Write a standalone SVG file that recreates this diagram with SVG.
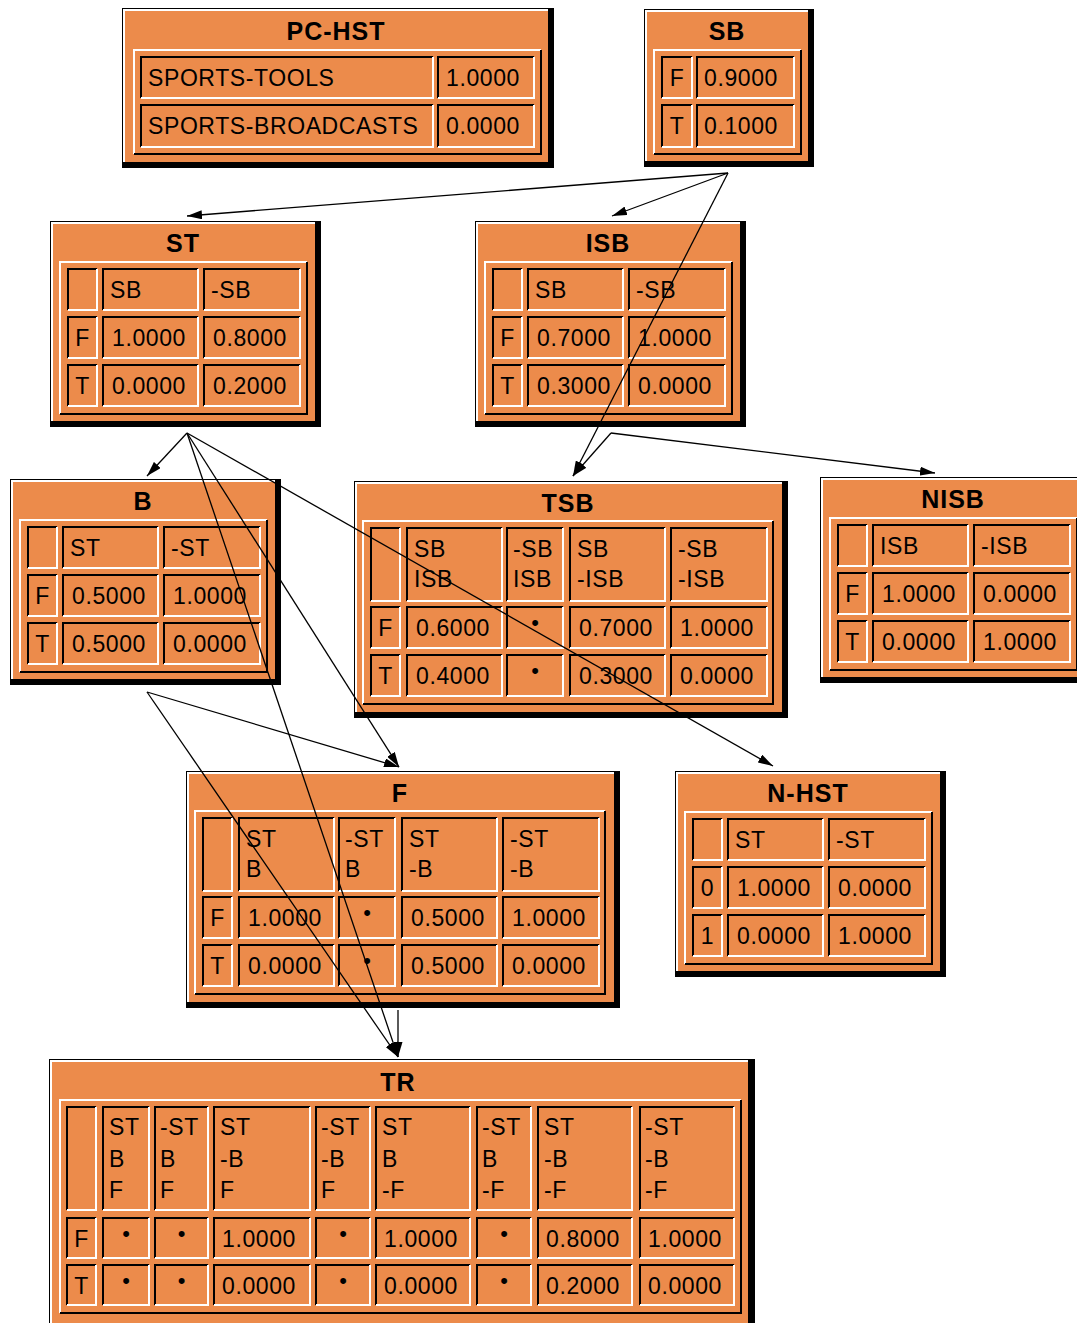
<svg xmlns="http://www.w3.org/2000/svg" width="1077" height="1323" viewBox="0 0 1077 1323">
<style>
.k{fill:#000}
.wf{fill:#fff}
.or{fill:#EC8B4B}
.sk{fill:none;stroke:#000;stroke-width:2}
.sw{fill:none;stroke:#fff;stroke-width:2}
text{font-family:"Liberation Sans",Arial,sans-serif;font-size:23px;letter-spacing:0.6px;fill:#000}
.ti{font-size:25px;font-weight:bold;text-anchor:middle;letter-spacing:1px}
.m{text-anchor:middle}
.d{font-size:22px;text-anchor:middle;letter-spacing:0}
.cn line{stroke:#000;stroke-width:1.3;fill:none;marker-end:url(#ah)}
</style>
<defs>
<marker id="ah" viewBox="0 0 15 9" refX="15" refY="4.5" markerWidth="15" markerHeight="9" markerUnits="userSpaceOnUse" orient="auto"><path d="M0,0L15,4.5L0,9z" fill="#000"/></marker>
<g id="n3">
<rect class="k" x="-1" y="-1" width="271" height="206"/>
<rect class="wf" x="0" y="0" width="264" height="199"/>
<rect class="or" x="2" y="2" width="262" height="197"/>
<path class="sw" d="M9 192V40H256"/>
<path class="sk" d="M256 40V192H9"/>
<path class="sk" d="M17 88V47H46M52 88V47H147M153 88V47H249M17 136V95H46M52 136V95H147M153 136V95H249M17 184V143H46M52 184V143H147M153 184V143H249"/>
<path class="sw" d="M46 47V88H17M147 47V88H52M249 47V88H153M46 95V136H17M147 95V136H52M249 95V136H153M46 143V184H17M147 143V184H52M249 143V184H153"/>
</g>
<g id="n5">
<rect class="k" x="-1" y="-1" width="434" height="237"/>
<rect class="wf" x="0" y="0" width="427" height="230"/>
<rect class="or" x="2" y="2" width="425" height="228"/>
<path class="sw" d="M8 222V39H418"/>
<path class="sk" d="M418 39V222H8"/>
<path class="sk" d="M16 119V46H45M52 119V46H147M152 119V46H208M215 119V46H310M316 119V46H412M16 166V125H45M52 166V125H147M152 166V125H208M215 166V125H310M316 166V125H412M16 214V173H45M52 214V173H147M152 214V173H208M215 214V173H310M316 214V173H412"/>
<path class="sw" d="M45 46V119H16M147 46V119H52M208 46V119H152M310 46V119H215M412 46V119H316M45 125V166H16M147 125V166H52M208 125V166H152M310 125V166H215M412 125V166H316M45 173V214H16M147 173V214H52M208 173V214H152M310 173V214H215M412 173V214H316"/>
</g>
</defs>
<rect x="0" y="0" width="1077" height="1323" fill="#fff"/>

<g id="node-PC-HST">
<rect class="k" x="122" y="8" width="432" height="160"/>
<rect class="wf" x="123" y="9" width="425" height="153"/>
<rect class="or" x="125" y="11" width="423" height="151"/>
<path class="sw" d="M134 154V50H541"/>
<path class="sk" d="M541 50V154H134"/>
<path class="sk" d="M141 98V57H433M438 98V57H534M141 147V105H433M438 147V105H534"/>
<path class="sw" d="M433 57V98H141M534 57V98H438M433 105V147H141M534 105V147H438"/>
<text class="ti" x="336" y="40">PC-HST</text>
<text x="148" y="86">SPORTS-TOOLS</text><text x="446" y="86">1.0000</text>
<text x="148" y="134">SPORTS-BROADCASTS</text><text x="446" y="134">0.0000</text>
</g>

<g id="node-SB">
<rect class="k" x="644" y="9" width="170" height="158"/>
<rect class="wf" x="645" y="10" width="163" height="151"/>
<rect class="or" x="647" y="12" width="161" height="149"/>
<path class="sw" d="M654 154V50H801"/>
<path class="sk" d="M801 50V154H654"/>
<path class="sk" d="M662 98V57H692M697 98V57H794M662 147V105H692M697 147V105H794"/>
<path class="sw" d="M692 57V98H662M794 57V98H697M692 105V147H662M794 105V147H697"/>
<text class="ti" x="727" y="40">SB</text>
<text class="m" x="677" y="86">F</text><text x="704" y="86">0.9000</text>
<text class="m" x="677" y="134">T</text><text x="704" y="134">0.1000</text>
</g>

<g id="node-ST" transform="translate(51,222)">
<use href="#n3"/>
<text class="ti" x="132" y="30">ST</text>
<text x="59" y="76">SB</text><text x="160" y="76">-SB</text>
<text class="m" x="31.5" y="124">F</text><text x="61" y="124">1.0000</text><text x="162" y="124">0.8000</text>
<text class="m" x="31.5" y="172">T</text><text x="61" y="172">0.0000</text><text x="162" y="172">0.2000</text>
</g>

<g id="node-ISB" transform="translate(476,222)">
<use href="#n3"/>
<text class="ti" x="132" y="30">ISB</text>
<text x="59" y="76">SB</text><text x="160" y="76">-SB</text>
<text class="m" x="31.5" y="124">F</text><text x="61" y="124">0.7000</text><text x="162" y="124">1.0000</text>
<text class="m" x="31.5" y="172">T</text><text x="61" y="172">0.3000</text><text x="162" y="172">0.0000</text>
</g>

<g id="node-B" transform="translate(11,480)">
<use href="#n3"/>
<text class="ti" x="132" y="30">B</text>
<text x="59" y="76">ST</text><text x="160" y="76">-ST</text>
<text class="m" x="31.5" y="124">F</text><text x="61" y="124">0.5000</text><text x="162" y="124">1.0000</text>
<text class="m" x="31.5" y="172">T</text><text x="61" y="172">0.5000</text><text x="162" y="172">0.0000</text>
</g>

<g id="node-NISB" transform="translate(821,478)">
<use href="#n3"/>
<text class="ti" x="132" y="30">NISB</text>
<text x="59" y="76">ISB</text><text x="160" y="76">-ISB</text>
<text class="m" x="31.5" y="124">F</text><text x="61" y="124">1.0000</text><text x="162" y="124">0.0000</text>
<text class="m" x="31.5" y="172">T</text><text x="61" y="172">0.0000</text><text x="162" y="172">1.0000</text>
</g>

<g id="node-N-HST" transform="translate(676,772)">
<use href="#n3"/>
<text class="ti" x="132" y="30">N-HST</text>
<text x="59" y="76">ST</text><text x="160" y="76">-ST</text>
<text class="m" x="31.5" y="124">0</text><text x="61" y="124">1.0000</text><text x="162" y="124">0.0000</text>
<text class="m" x="31.5" y="172">1</text><text x="61" y="172">0.0000</text><text x="162" y="172">1.0000</text>
</g>

<g id="node-TSB" transform="translate(355,482)">
<use href="#n5"/>
<text class="ti" x="213" y="30">TSB</text>
<text x="59" y="75">SB</text><text x="59" y="105">ISB</text>
<text x="158" y="75">-SB</text><text x="158" y="105">ISB</text>
<text x="222" y="75">SB</text><text x="222" y="105">-ISB</text>
<text x="323" y="75">-SB</text><text x="323" y="105">-ISB</text>
<text class="m" x="30.5" y="154">F</text><text x="61" y="154">0.6000</text><text class="d" x="180" y="148">•</text><text x="224" y="154">0.7000</text><text x="325" y="154">1.0000</text>
<text class="m" x="30.5" y="202">T</text><text x="61" y="202">0.4000</text><text class="d" x="180" y="196">•</text><text x="224" y="202">0.3000</text><text x="325" y="202">0.0000</text>
</g>

<g id="node-F" transform="translate(187,772)">
<use href="#n5"/>
<text class="ti" x="213" y="30">F</text>
<text x="59" y="75">ST</text><text x="59" y="105">B</text>
<text x="158" y="75">-ST</text><text x="158" y="105">B</text>
<text x="222" y="75">ST</text><text x="222" y="105">-B</text>
<text x="323" y="75">-ST</text><text x="323" y="105">-B</text>
<text class="m" x="30.5" y="154">F</text><text x="61" y="154">1.0000</text><text class="d" x="180" y="148">•</text><text x="224" y="154">0.5000</text><text x="325" y="154">1.0000</text>
<text class="m" x="30.5" y="202">T</text><text x="61" y="202">0.0000</text><text class="d" x="180" y="196">•</text><text x="224" y="202">0.5000</text><text x="325" y="202">0.0000</text>
</g>

<g id="node-TR">
<rect class="k" x="49" y="1059" width="706" height="300"/>
<rect class="wf" x="50" y="1060" width="698" height="290"/>
<rect class="or" x="52" y="1062" width="696" height="288"/>
<path class="sw" d="M60 1313V1100H741"/>
<path class="sk" d="M741 1100V1313H60"/>
<path class="sk" d="M67 1210V1107H96M103 1210V1107H149M155 1210V1107H208M214 1210V1107H310M316 1210V1107H370M376 1210V1107H470M477 1210V1107H531M538 1210V1107H632M640 1210V1107H734M67 1258V1218H96M103 1258V1218H149M155 1258V1218H208M214 1258V1218H310M316 1258V1218H370M376 1258V1218H470M477 1258V1218H531M538 1258V1218H632M640 1258V1218H734M67 1305V1265H96M103 1305V1265H149M155 1305V1265H208M214 1305V1265H310M316 1305V1265H370M376 1305V1265H470M477 1305V1265H531M538 1305V1265H632M640 1305V1265H734"/>
<path class="sw" d="M96 1107V1210H67M149 1107V1210H103M208 1107V1210H155M310 1107V1210H214M370 1107V1210H316M470 1107V1210H376M531 1107V1210H477M632 1107V1210H538M734 1107V1210H640M96 1218V1258H67M149 1218V1258H103M208 1218V1258H155M310 1218V1258H214M370 1218V1258H316M470 1218V1258H376M531 1218V1258H477M632 1218V1258H538M734 1218V1258H640M96 1265V1305H67M149 1265V1305H103M208 1265V1305H155M310 1265V1305H214M370 1265V1305H316M470 1265V1305H376M531 1265V1305H477M632 1265V1305H538M734 1265V1305H640"/>
<text class="ti" x="398" y="1091">TR</text>
<text x="109" y="1135">ST</text><text x="109" y="1167">B</text><text x="109" y="1198">F</text>
<text x="160" y="1135">-ST</text><text x="160" y="1167">B</text><text x="160" y="1198">F</text>
<text x="220" y="1135">ST</text><text x="220" y="1167">-B</text><text x="220" y="1198">F</text>
<text x="321" y="1135">-ST</text><text x="321" y="1167">-B</text><text x="321" y="1198">F</text>
<text x="382" y="1135">ST</text><text x="382" y="1167">B</text><text x="382" y="1198">-F</text>
<text x="482" y="1135">-ST</text><text x="482" y="1167">B</text><text x="482" y="1198">-F</text>
<text x="544" y="1135">ST</text><text x="544" y="1167">-B</text><text x="544" y="1198">-F</text>
<text x="645" y="1135">-ST</text><text x="645" y="1167">-B</text><text x="645" y="1198">-F</text>
<text class="m" x="81.5" y="1247">F</text>
<text class="d" x="126" y="1241">•</text><text class="d" x="181.5" y="1241">•</text><text x="222" y="1247">1.0000</text><text class="d" x="343" y="1241">•</text><text x="384" y="1247">1.0000</text><text class="d" x="504" y="1241">•</text><text x="546" y="1247">0.8000</text><text x="648" y="1247">1.0000</text>
<text class="m" x="81.5" y="1294">T</text>
<text class="d" x="126" y="1288">•</text><text class="d" x="181.5" y="1288">•</text><text x="222" y="1294">0.0000</text><text class="d" x="343" y="1288">•</text><text x="384" y="1294">0.0000</text><text class="d" x="504" y="1288">•</text><text x="546" y="1294">0.2000</text><text x="648" y="1294">0.0000</text>
</g>

<g id="connectors" class="cn">
<line x1="728" y1="173" x2="187" y2="216"/>
<line x1="728" y1="173" x2="612" y2="216"/>
<line x1="728" y1="173" x2="573" y2="476"/>
<line x1="611" y1="433" x2="573" y2="476"/>
<line x1="611" y1="433" x2="935" y2="473"/>
<line x1="187" y1="433" x2="147" y2="476"/>
<line x1="187" y1="433" x2="399" y2="767"/>
<line x1="187" y1="433" x2="398" y2="1057"/>
<line x1="187" y1="433" x2="773" y2="766"/>
<line x1="147" y1="692" x2="399" y2="767"/>
<line x1="147" y1="692" x2="398" y2="1057"/>
<line x1="398" y1="1010" x2="398" y2="1057"/>
</g>
</svg>
